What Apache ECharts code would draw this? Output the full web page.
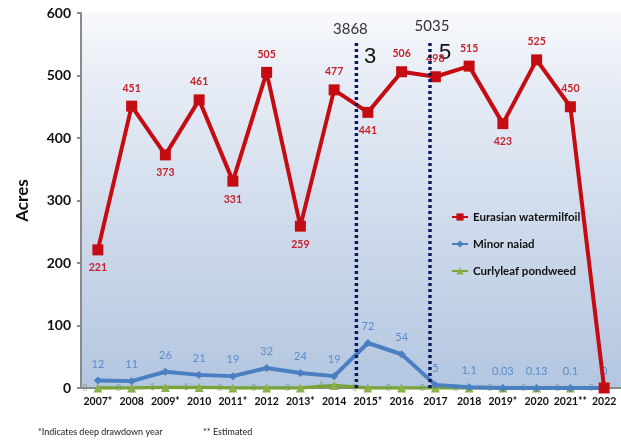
<!DOCTYPE html>
<html><head><meta charset="utf-8">
<script src="https://cdn.jsdelivr.net/npm/echarts@6/dist/echarts.min.js"></script>
<style>html,body{margin:0;padding:0;background:#fff}#c{width:621px;height:442px}</style>
</head><body><div id="c"></div>
<script>
const categories = ['2007*','2008','2009*','2010','2011*','2012','2013*','2014','2015*','2016','2017','2018','2019*','2020','2021**','2022'];
const watermilfoil = [221,451,373,461,331,505,259,477,441,506,498,515,423,525,450,0];
const watermilfoilLabelPos = ['bottom','top','bottom','top','bottom','top','bottom','top','bottom','top','top','top','bottom','top','top','none'];
const naiad = [12,11,26,21,19,32,24,19,72,54,5,1.1,0.03,0.13,0.1,0];
const pondweed = [0,0,1,1,0,0,0,4,0,0,0,0,0,0,0,0];
const yTicks = [0,100,200,300,400,500,600];
const drawdownLines = [{x:7.66, top:554, text:'3868'},{x:9.84, top:554, text:'5035'}];

const chart = echarts.init(document.getElementById('c'));
const FONT = 'Lato';
const G = {left:81,width:543,top:13,bottom:54};
const dotSeries = drawdownLines.map((d,i)=>({
  type:'line', xAxisIndex:1, yAxisIndex:1, z:10, silent:true, showSymbol:true, symbol:'circle', symbolSize:0,
  data:[{value:[d.x,0],label:{show:false}},{value:[d.x,d.top],label:{show:true,position:'top',formatter:d.text,
    offset: i===0?[-6,0]:[2,-3], fontFamily:FONT, fontSize:15, color:'#333'}}],
  lineStyle:{color:'#0b1c5c',width:3.5,type:[3,3]}
}));
chart.setOption({
  animation:false,
  textStyle:{fontFamily:FONT},
  grid:[Object.assign({show:true,borderWidth:0,
    backgroundColor:new echarts.graphic.LinearGradient(0,0,0,1,[
      {offset:0,color:'#f7f9fc'},{offset:0.15,color:'#e9eef6'},{offset:1,color:'#b3c6e0'}])},G),
    Object.assign({show:false},G)],
  legend:{orient:'vertical',left:446,top:206,itemGap:15,itemWidth:16,itemHeight:9,
    textStyle:{fontFamily:FONT,fontWeight:'bold',fontSize:11.5,color:'#111'},
    data:['Eurasian watermilfoil','Minor naiad','Curlyleaf pondweed']},
  xAxis:[{type:'category',gridIndex:0,data:categories,boundaryGap:true,
    axisLine:{lineStyle:{color:'#8a8a8a',width:2}},axisTick:{show:false},
    axisLabel:{fontFamily:FONT,fontWeight:'bold',fontSize:10.5,color:'#111',margin:8,interval:0}},
    {type:'value',gridIndex:1,min:-0.5,max:15.5,show:false}],
  yAxis:[{type:'value',gridIndex:0,min:0,max:600,interval:100,name:'Acres',nameLocation:'middle',nameGap:50,
    nameTextStyle:{fontFamily:FONT,fontWeight:'bold',fontSize:17,color:'#111'},
    axisLine:{show:true,lineStyle:{color:'#8a8a8a',width:2}},
    axisTick:{show:true,length:4,lineStyle:{color:'#8a8a8a',width:2}},
    splitLine:{show:false},
    axisLabel:{fontFamily:FONT,fontWeight:'bold',fontSize:14,color:'#111',margin:10,
      formatter:v=>yTicks.includes(v)?String(v):''}},
    {type:'value',gridIndex:1,min:0,max:600,show:false}],
  graphic:[
    {type:'text',left:364,top:46,style:{text:'3',fontFamily:'Liberation Sans',fontSize:22,fill:'#111'}},
    {type:'text',left:439,top:42,style:{text:'5',fontFamily:'Liberation Sans',fontSize:22,fill:'#111'}},
    {type:'text',left:38,top:428,style:{text:'*Indicates deep drawdown year',fontFamily:FONT,fontSize:9,fill:'#222'}},
    {type:'text',left:203,top:428,style:{text:'** Estimated',fontFamily:FONT,fontSize:9,fill:'#222'}}
  ],
  series:[
    {name:'Curlyleaf pondweed',type:'line',data:pondweed,z:3,symbol:'triangle',symbolSize:9,
      itemStyle:{color:'#8ab04a'},lineStyle:{color:'#7aa33a',width:3.5},
      label:{show:true,position:'left',distance:6,fontSize:9,color:'rgba(110,140,80,0.6)'}},
    {name:'Minor naiad',type:'line',data:naiad,z:4,symbol:'diamond',symbolSize:8,
      itemStyle:{color:'#4a7fc1'},lineStyle:{color:'#4a7fc1',width:4},
      label:{show:true,position:'top',distance:7,fontSize:11,color:'#5b8ccc'}},
    {name:'Eurasian watermilfoil',type:'line',data:watermilfoil.map((v,i)=>({value:v,
        label:{show:watermilfoilLabelPos[i]!=='none',position:watermilfoilLabelPos[i]}})),
      z:5,symbol:'rect',symbolSize:11,
      itemStyle:{color:'#c40c12'},lineStyle:{color:'#c40c12',width:4},
      label:{show:true,distance:7,fontSize:10.5,fontWeight:'bold',color:'#c4212b'}},
    ...dotSeries
  ]
});
</script></body></html>
